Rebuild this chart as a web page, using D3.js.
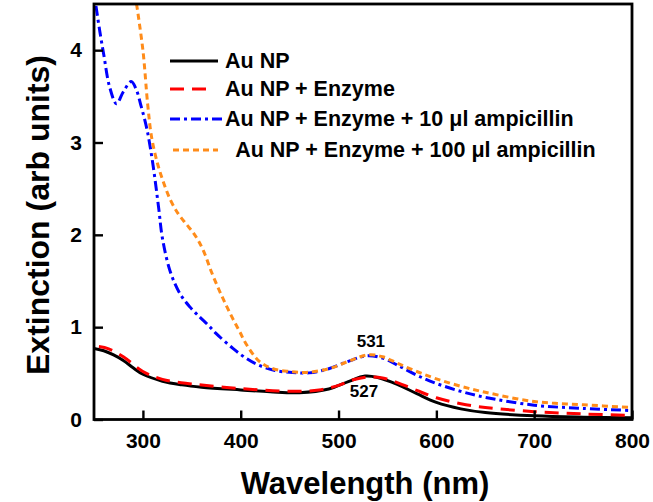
<!DOCTYPE html>
<html>
<head>
<meta charset="utf-8">
<script src="https://cdn.jsdelivr.net/npm/d3@7"></script>
<style>
  body { margin: 0; background: #fff; }
  text { font-family: Arial, "Liberation Sans", sans-serif; font-weight: bold; }
</style>
</head>
<body>
<div id="chart"></div>
<script>
// spectra: [wavelength nm, extinction]
var auNP = [[250,0.77],[260,0.745],[270,0.70],[280,0.64],[290,0.56],[300,0.49],[320,0.415],[340,0.375],[360,0.35],[400,0.32],[430,0.30],[460,0.29],[490,0.33],[510,0.41],[527,0.47],[540,0.455],[560,0.38],[580,0.28],[600,0.185],[625,0.115],[650,0.075],[700,0.04],[750,0.025],[800,0.018]];
var auEnz = [[255,0.79],[265,0.765],[280,0.68],[300,0.52],[320,0.435],[350,0.385],[400,0.335],[450,0.305],[480,0.32],[500,0.37],[515,0.43],[530,0.46],[545,0.45],[560,0.40],[580,0.315],[600,0.235],[625,0.17],[650,0.13],[700,0.085],[750,0.06],[800,0.045]];
var amp10 = [[252,4.48],[256,4.2],[260,3.95],[266,3.6],[273,3.42],[280,3.55],[288,3.66],[293,3.58],[298,3.4],[304,3.15],[310,2.78],[316,2.3],[320,1.96],[328,1.6],[338,1.36],[348,1.22],[358,1.11],[366,1.03],[375,0.93],[392,0.77],[406,0.66],[418,0.59],[435,0.53],[453,0.51],[470,0.505],[490,0.55],[510,0.63],[529,0.69],[545,0.665],[560,0.59],[580,0.48],[600,0.39],[625,0.305],[650,0.24],[700,0.155],[750,0.12],[800,0.097]];
var amp100 = [[293.5,4.5],[300,4.0],[305,3.4],[309,3.05],[315,2.77],[321,2.57],[328,2.38],[336,2.23],[344,2.12],[351,2.03],[357,1.93],[363,1.8],[370,1.6],[378,1.4],[385,1.24],[392,1.09],[399,0.95],[406,0.81],[419,0.63],[433,0.55],[450,0.52],[467,0.51],[490,0.55],[510,0.63],[530,0.70],[545,0.68],[560,0.61],[580,0.52],[600,0.44],[625,0.36],[650,0.295],[700,0.195],[750,0.16],[800,0.13]];

var seriesNames = ["Au NP", "Au NP + Enzyme", "Au NP + Enzyme + 10 \u03bcl ampicillin", " Au NP + Enzyme + 100 \u03bcl ampicillin"];
var xTicks = [300, 400, 500, 600, 700, 800];
var yTicks = [0, 1, 2, 3, 4];
var peakLabels = [[531, 0.70, "531"], [527, 0.47, "527"]];

var series = [
  {name: seriesNames[0], data: auNP,  color: "#000000", dash: null},
  {name: seriesNames[1], data: auEnz, color: "#ff0000", dash: "14,8"},
  {name: seriesNames[2], data: amp10, color: "#0000ff", dash: "10,4,3,4"},
  {name: seriesNames[3], data: amp100, color: "#ff8c1a", dash: "6,4"}
];

var W = 653, H = 502;
var mLeft = 94, mRight = 632, mTop = 4, mBottom = 419.5;

var svg = d3.select("#chart").append("svg")
  .attr("width", W)
  .attr("height", H);

var x = d3.scaleLinear().domain([250, 800]).range([mLeft, mRight]);
var y = d3.scaleLinear().domain([0, 4.5]).range([mBottom, mTop]);

svg.append("clipPath").attr("id", "clip")
  .append("rect")
  .attr("x", mLeft).attr("y", mTop)
  .attr("width", mRight - mLeft).attr("height", mBottom - mTop);

var line = d3.line()
  .x(function(d){ return x(d[0]); })
  .y(function(d){ return y(d[1]); })
  .curve(d3.curveCatmullRom.alpha(0.5));

svg.append("g").attr("clip-path", "url(#clip)")
  .selectAll("path")
  .data(series)
  .enter()
  .append("path")
  .attr("d", function(d){ return line(d.data); })
  .attr("fill", "none")
  .attr("stroke", function(d){ return d.color; })
  .attr("stroke-width", 3)
  .attr("stroke-dasharray", function(d){ return d.dash; });

// axes, ticks pointing inward
var xAxis = svg.append("g")
  .attr("transform", "translate(0," + mBottom + ")")
  .call(d3.axisBottom(x).tickValues(xTicks).tickSizeInner(-9).tickSizeOuter(0).tickPadding(14));
var yAxis = svg.append("g")
  .attr("transform", "translate(" + mLeft + ",0)")
  .call(d3.axisLeft(y).tickValues(yTicks).tickSizeInner(-9).tickSizeOuter(0).tickPadding(12).tickFormat(d3.format("d")));

[xAxis, yAxis].forEach(function(a){
  a.select(".domain").remove();
  a.selectAll(".tick line").attr("stroke", "#000").attr("stroke-width", 2.4);
  a.selectAll(".tick text").attr("fill", "#000").style("font-size", "21px");
});

// frame
svg.append("rect")
  .attr("x", mLeft).attr("y", mTop)
  .attr("width", mRight - mLeft).attr("height", mBottom - mTop)
  .attr("fill", "none")
  .attr("stroke", "#000")
  .attr("stroke-width", 2.8);

// axis titles
svg.append("text")
  .attr("x", 365)
  .attr("y", 494)
  .attr("text-anchor", "middle")
  .style("font-size", "31px")
  .text("Wavelength (nm)");

svg.append("text")
  .attr("transform", "translate(49,215) rotate(-90)")
  .attr("text-anchor", "middle")
  .style("font-size", "32px")
  .text("Extinction (arb units)");

// peak labels
svg.append("text")
  .attr("x", x(peakLabels[0][0]) + 2).attr("y", 347)
  .attr("text-anchor", "middle")
  .style("font-size", "17px")
  .text(peakLabels[0][2]);
svg.append("text")
  .attr("x", x(peakLabels[1][0]) - 1).attr("y", 397)
  .attr("text-anchor", "middle")
  .style("font-size", "17px")
  .text(peakLabels[1][2]);

// legend
var legend = svg.append("g");
var rowsY = [61, 89, 119, 150];
var keyX = [[170, 218], [170, 213], [170, 222], [173, 218]];
series.forEach(function(s, i){
  legend.append("line")
    .attr("x1", keyX[i][0]).attr("x2", keyX[i][1])
    .attr("y1", rowsY[i]).attr("y2", rowsY[i])
    .attr("stroke", s.color)
    .attr("stroke-width", 3)
    .attr("stroke-dasharray", s.dash);
  legend.append("text")
    .attr("x", i == 3 ? 230 : 225)
    .attr("y", rowsY[i] + 7)
    .style("font-size", "21.5px")
    .style("white-space", "pre")
    .attr("xml:space", "preserve")
    .text(s.name);
});
</script>
</body>
</html>
